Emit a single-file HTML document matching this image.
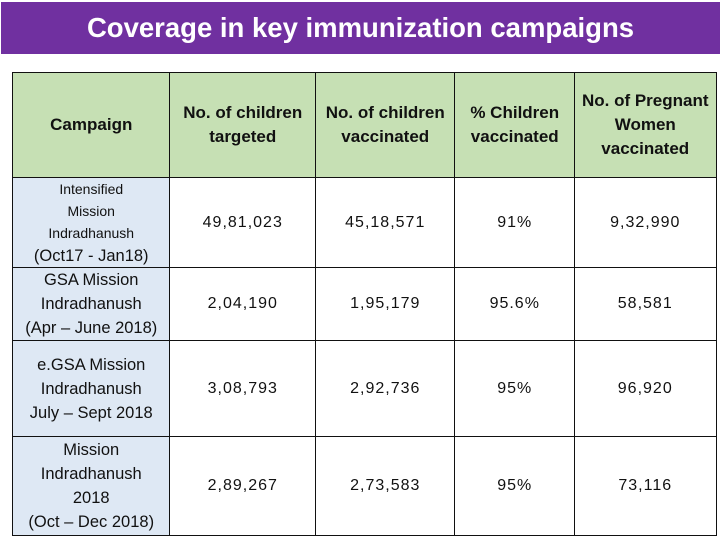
<!DOCTYPE html>
<html><head><meta charset="utf-8"><style>
body{margin:0;width:720px;height:540px;background:#fff;position:relative;overflow:hidden;font-family:"Liberation Sans",sans-serif}
#title{position:absolute;left:1px;top:2px;width:719px;height:52px;background:#7030a0;color:#fff;font-weight:bold;font-size:27.5px;display:flex;align-items:center;justify-content:center;box-sizing:border-box}
.cell{position:absolute;box-sizing:border-box;border:1.5px solid #111;display:flex;flex-direction:column;align-items:center;justify-content:center;text-align:center;color:#111}
.hdr{background:#c6e0b4;font-weight:bold;font-size:17px;line-height:24px}
.c1{background:#dee8f4;font-size:16.5px;line-height:24px}
.num{background:#fff;font-size:16px;letter-spacing:1px}
.sm{font-size:14px;line-height:22px}
</style></head><body>
<div id="title">Coverage in key immunization campaigns</div>
<div id="tbl"></div>
<script>
const colX=[12,169,315,454,574,715];
const rowY=[72,177,267,340,436,534];
const headers=["Campaign","No. of children<br>targeted","No. of children<br>vaccinated","% Children<br>vaccinated","No. of Pregnant<br>Women<br>vaccinated"];
const campaigns=['<span class="sm">Intensified<br>Mission<br>Indradhanush</span>(Oct17 - Jan18)','GSA Mission<br>Indradhanush<br>(Apr – June 2018)','e.GSA Mission<br>Indradhanush<br>July – Sept 2018','Mission<br>Indradhanush<br>2018<br>(Oct – Dec 2018)'];
const targeted=["49,81,023","2,04,190","3,08,793","2,89,267"];
const vaccinated=["45,18,571","1,95,179","2,92,736","2,73,583"];
const pct=["91%","95.6%","95%","95%"];
const pregnant=["9,32,990","58,581","96,920","73,116"];
const tbl=document.getElementById('tbl');
function mk(c,r,html,cls){
  const d=document.createElement('div');
  d.className='cell '+cls;
  d.style.left=colX[c]+'px';d.style.top=rowY[r]+'px';
  d.style.width=(colX[c+1]-colX[c]+1.5)+'px';d.style.height=(rowY[r+1]-rowY[r]+1.5)+'px';
  d.innerHTML=html;tbl.appendChild(d);return d;
}
headers.forEach((h,i)=>{
  const d=mk(i,0,h,'hdr');
  
  
});
campaigns.forEach((cn,r)=>{
  const a=mk(0,r+1,cn,'c1');
  
  
  const vals=[targeted[r],vaccinated[r],pct[r],pregnant[r]];
  vals.forEach((v,c)=>{
    const d=mk(c+1,r+1,v,'num');
    
    
  });
});
</script>
</body></html>
